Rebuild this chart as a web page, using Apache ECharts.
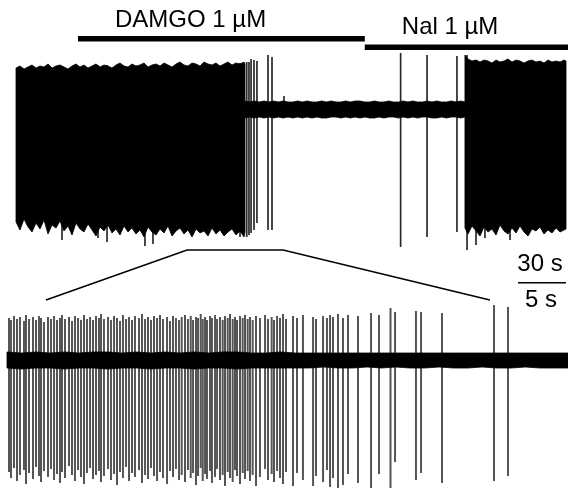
<!DOCTYPE html>
<html><head><meta charset="utf-8">
<script src="https://cdn.jsdelivr.net/npm/echarts@6/dist/echarts.min.js"></script>
<style>html,body{margin:0;padding:0;background:#fff}#c{width:568px;height:491px}</style>
</head><body><div id="c"></div><script>
// ---------------- DATA ----------------
// Drug application periods (top trace time, s)
const drugNames = ['DAMGO 1 µM', 'Nal 1 µM'];
const drugStart = [38.75, 218];
const drugEnd = [218, 345];

// Top trace (30 s scale): envelope of dense firing / noise band  [t (s), upper, lower]
const topEnvelope = [
  [0,42,-112],[2.5,44,-120],[5,41,-109],[7.5,43,-117],[10,45,-122],[12.5,42,-113],[15,44,-119],[17.5,43,-110],[20,46,-124],[22.5,42,-115],
  [25,44,-118],[27.5,45,-111],[30,43,-121],[32.5,41,-116],[35,44,-125],[37.5,46,-113],[40,43,-119],[42.5,45,-122],[45,42,-114],[47.5,44,-120],
  [50,46,-126],[52.5,43,-117],[55,45,-121],[57.5,44,-115],[60,42,-123],[62.5,45,-119],[65,47,-125],[67.5,44,-116],[70,43,-122],[72.5,46,-118],
  [75,44,-124],[77.5,45,-120],[80,47,-127],[82.5,43,-117],[85,45,-122],[87.5,46,-125],[90,44,-119],[92.5,47,-123],[95,45,-116],[97.5,43,-126],
  [100,46,-121],[102.5,48,-118],[105,45,-124],[107.5,44,-120],[110,47,-127],[112.5,46,-119],[115,44,-123],[117.5,48,-121],[120,46,-126],[122.5,45,-118],
  [125,47,-124],[127.5,44,-120],[130,46,-126],[132.5,48,-122],[135,45,-119],[137.5,47,-125],[140,46,-121],[142.5,48,-127],[143.1,46,-122],
  [143.1,9,-8],[146,8,-7],[149,9,-8],[152,8,-7],[155,9,-8],[158,8,-7],[161,9,-8],[164,8,-7],[167,9,-8],[170,8,-7],
  [173,8,-8],[176,9,-7],[179,8,-8],[182,9,-7],[185,8,-8],[188,8,-7],[191,9,-8],[194,8,-8],[197,9,-7],[200,8,-7],
  [203,8,-8],[206,9,-7],[209,8,-8],[212,9,-7],[215,9,-8],[218,8,-7],[221,8,-8],[224,9,-8],[227,8,-7],[230,8,-8],
  [233,9,-7],[236,8,-7],[239,8,-8],[242,9,-7],[245,8,-8],[248,9,-7],[251,8,-8],[254,8,-7],[257,9,-7],[260,8,-8],
  [263,9,-8],[266,8,-7],[269,8,-8],[272,9,-7],[275,8,-7],[278,9,-8],[280.6,8,-7],
  [280.6,55,-118],[282.5,51,-124],[285,49,-116],[287.5,50,-121],[290,48,-126],[292.5,50,-117],[295,49,-122],[297.5,47,-119],[300,50,-125],
  [302.5,48,-115],[305,49,-121],[307.5,51,-124],[310,48,-118],[312.5,50,-123],[315,49,-116],[317.5,47,-122],[320,49,-126],[322.5,50,-119],
  [325,48,-121],[327.5,49,-117],[330,47,-124],[332.5,50,-120],[335,48,-123],[337.5,49,-118],[340,48,-122],[342.5,50,-120],[343.75,49,-119]
];
// Top trace individual spikes [t (s), peak, trough]
const topSpikes = [
  [28.75,44,-130],[51.25,45,-128],[56.9,45,-132],[80.6,45,-136],[85.6,45,-134],[140,47,-127],
  [144.2,48,-127],[145.6,48,-125],[146.9,51,-123],[148.75,50,-120],[150.6,49,-113],[157.5,55,-120],[160,53,-120],
  [167.5,14,0],
  [240.4,57,-137],[256.9,55,-127],[275.6,54,-122],
  [281.9,55,-140],[287.5,50,-135],[293.1,49,-128],[308.75,48,-130]
];

// Bottom trace (5 s scale): noise band [t (s), upper, lower]
const bottomEnvelope = [
  [0,8,-8],[1.5,7,-9],[3,8,-8],[4.5,7,-8],[6,8,-9],[7.5,7,-8],[9,8,-8],[10.5,8,-9],[12,7,-8],[13.5,8,-8],
  [15,7,-9],[16.5,8,-8],[18,7,-8],[19.5,8,-9],[21,7,-8],[22.5,8,-8],[24,8,-9],[25.5,7,-8],[27,7,-8],[28.5,8,-8],
  [30,7,-8],[31.5,7,-8],[33,7,-7],[34.5,7,-8],[36,7,-8],[37.5,7,-7],[39,7,-8],[40.5,7,-7],[42,7,-8],[43.5,7,-8],
  [45,7,-7],[46.5,7,-8],[48,7,-8],[49.5,7,-7],[51,7,-8],[52.5,7,-8],[54,7,-7],[55.5,7,-8],[57,7,-8],[58.44,7,-8]
];
// Bottom trace spikes [t (s), peak, trough]
const bottomSpikes = [
  [0.21,42,-112],[0.42,40,-118],[0.73,44,-108],[1.04,41,-121],[1.35,43,-115],[1.77,39,-110],[1.98,45,-124],[2.29,41,-113],
  [2.71,43,-119],[3.02,40,-107],[3.33,44,-116],[3.54,42,-122],[3.85,38,-111],[4.27,43,-117],[4.58,41,-109],[4.90,44,-120],
  [5.21,40,-114],[5.52,42,-123],[5.73,45,-112],[6.04,41,-118],[6.46,43,-106],[6.77,39,-115],[7.08,44,-121],[7.40,42,-110],
  [7.71,40,-117],[8.02,45,-124],[8.33,41,-113],[8.65,43,-108],[8.96,40,-119],[9.27,44,-115],[9.58,42,-111],[9.79,46,-122],
  [10.10,41,-116],[10.52,43,-109],[10.83,40,-120],[11.15,44,-114],[11.46,42,-125],[11.77,39,-112],[12.08,45,-118],[12.40,41,-107],
  [12.71,43,-121],[13.02,40,-113],[13.33,44,-117],[13.75,42,-110],[14.06,46,-123],[14.38,41,-115],[14.69,43,-119],[15.00,40,-108],
  [15.31,44,-116],[15.63,42,-121],[15.94,45,-112],[16.25,41,-118],[16.67,43,-124],[16.98,39,-111],[17.29,44,-117],[17.60,42,-109],
  [17.92,40,-120],[18.20,43,-115],[18.54,45,-122],[18.85,41,-110],[19.14,44,-118],[19.38,40,-113],[19.69,43,-125],[19.90,42,-116],
  [20.18,46,-108],[20.39,41,-121],[20.63,43,-114],[20.83,40,-119],[21.15,44,-111],[21.35,42,-123],[21.67,45,-117],[21.88,41,-109],
  [22.19,43,-120],[22.47,40,-115],[22.71,44,-126],[22.99,42,-112],[23.23,46,-118],[23.51,41,-122],[23.75,43,-110],[23.96,40,-116],
  [24.27,44,-124],[24.55,42,-113],[24.79,45,-119],[25.07,41,-111],[25.31,43,-121],[25.59,40,-115],[25.94,44,-126],[26.35,42,-117],
  [26.88,45,-109],[27.19,41,-120],[27.57,43,-114],[27.81,40,-122],[28.13,44,-111],[28.44,42,-118],[28.75,46,-124],[29.06,41,-112],
  [29.79,44,-126],[30.21,42,-113],[30.83,45,-120],[31.88,43,-126],[32.19,41,-116],[32.92,44,-122],[33.33,42,-110],[33.65,45,-127],
  [33.96,43,-118],[34.48,46,-128],[35.00,42,-125],[35.52,45,-114],[36.56,44,-123],[37.92,47,-128],[38.75,45,-114],[39.95,52,-128],
  [40.42,48,-102],[42.60,49,-120],[43.13,48,-113],[45.31,47,-123],[50.73,55,-121],[52.19,53,-116]
];

// Expanded window: top-trace range shown below, and its span on the bottom trace (s)
const zoomWindowTop = [106.9, 166.9];
const zoomWindowBottom = [4.06, 50.3];
// Scale bars (s) and their labels
const scaleBarTop = 30;
const scaleBarBottom = 5;
const scaleLabels = ['30 s', '5 s'];

// ---------------- CHART ----------------
const FONT = '"Liberation Sans", Arial, sans-serif';
const chart = echarts.init(document.getElementById('c'), null, {renderer: 'canvas'});

function envelopeSeries(env, idx) {
  return {
    type: 'custom', xAxisIndex: idx, yAxisIndex: idx, silent: true,
    data: [[env[0][0], env[0][1]]],
    renderItem: function (params, api) {
      const pts = [];
      for (let i = 0; i < env.length; i++) pts.push(api.coord([env[i][0], env[i][1]]));
      for (let i = env.length - 1; i >= 0; i--) pts.push(api.coord([env[i][0], env[i][2]]));
      return {type: 'polygon', shape: {points: pts}, style: {fill: '#000', stroke: '#000', lineWidth: 0.8}};
    }
  };
}
function spikeSeries(spk, idx, color, w) {
  return {
    type: 'custom', xAxisIndex: idx, yAxisIndex: idx, silent: true,
    data: spk,
    encode: {x: 0, y: [1, 2]},
    renderItem: function (params, api) {
      const a = api.coord([api.value(0), api.value(1)]);
      const b = api.coord([api.value(0), api.value(2)]);
      return {type: 'line', shape: {x1: a[0], y1: a[1], x2: b[0], y2: b[1]}, style: {stroke: color, lineWidth: w}};
    }
  };
}

const barRowY = [38.7, 47.2];     // layout: bar centre (px)
const labelRowY = [20.5, 27];     // layout: label middle (px)

const option = {
  animation: false,
  backgroundColor: '#fff',
  grid: [
    {left: 16, top: 0, width: 550, height: 250},
    {left: 7, top: 300, width: 561, height: 191}
  ],
  xAxis: [
    {type: 'value', gridIndex: 0, min: 0, max: 343.75, show: false},
    {type: 'value', gridIndex: 1, min: 0, max: 58.4375, show: false}
  ],
  yAxis: [
    {type: 'value', gridIndex: 0, min: -140, max: 110, show: false},
    {type: 'value', gridIndex: 1, min: -131, max: 60, show: false}
  ],
  series: [
    spikeSeries(topSpikes, 0, '#2a2a2a', 1.7),
    envelopeSeries(topEnvelope, 0),
    spikeSeries(bottomSpikes, 1, '#555', 2),
    envelopeSeries(bottomEnvelope, 1),
    {
      type: 'custom', xAxisIndex: 0, yAxisIndex: 0, silent: true,
      data: drugNames.map((n, i) => [drugStart[i], drugEnd[i], i]),
      renderItem: function (params, api) {
        const i = api.value(2);
        const x1 = api.coord([api.value(0), 0])[0];
        const x2 = api.coord([api.value(1), 0])[0];
        return {type: 'group', children: [
          {type: 'rect', shape: {x: x1, y: barRowY[i] - 2.8, width: x2 - x1, height: 5.6}, style: {fill: '#000'}},
          {type: 'text', x: x1 + 37, y: labelRowY[i], style: {text: drugNames[i], font: '24px ' + FONT, fill: '#000', align: 'left', verticalAlign: 'middle'}}
        ]};
      }
    }
  ]
};
chart.setOption(option);

// Expansion lines and scale bar drawn through the axis scales
const pTop = v => chart.convertToPixel({gridIndex: 0}, v);
const pBot = v => chart.convertToPixel({gridIndex: 1}, v);
const a = pBot([zoomWindowBottom[0], 60]);
const b = pTop([zoomWindowTop[0], -140]);
const c = pTop([zoomWindowTop[1], -140]);
const d = pBot([zoomWindowBottom[1], 60]);
const lenTop = pTop([scaleBarTop, 0])[0] - pTop([0, 0])[0];
const lenBot = pBot([scaleBarBottom, 0])[0] - pBot([0, 0])[0];
const sbRight = 566, sbY = 282.7;
const sbLen = Math.max(lenTop, lenBot);
chart.setOption({
  graphic: [
    {type: 'polyline', shape: {points: [a, b, c, d]}, style: {stroke: '#000', lineWidth: 1.6, fill: null}, silent: true},
    {type: 'line', shape: {x1: sbRight - sbLen, y1: sbY, x2: sbRight, y2: sbY}, style: {stroke: '#000', lineWidth: 1.5}, silent: true},
    {type: 'text', x: sbRight - sbLen / 2 - 2, y: 264.6, style: {text: scaleLabels[0], font: '24px ' + FONT, fill: '#000', align: 'center', verticalAlign: 'middle'}, silent: true},
    {type: 'text', x: sbRight - sbLen / 2 - 1, y: 300.6, style: {text: scaleLabels[1], font: '24px ' + FONT, fill: '#000', align: 'center', verticalAlign: 'middle'}, silent: true}
  ]
});
</script></body></html>
